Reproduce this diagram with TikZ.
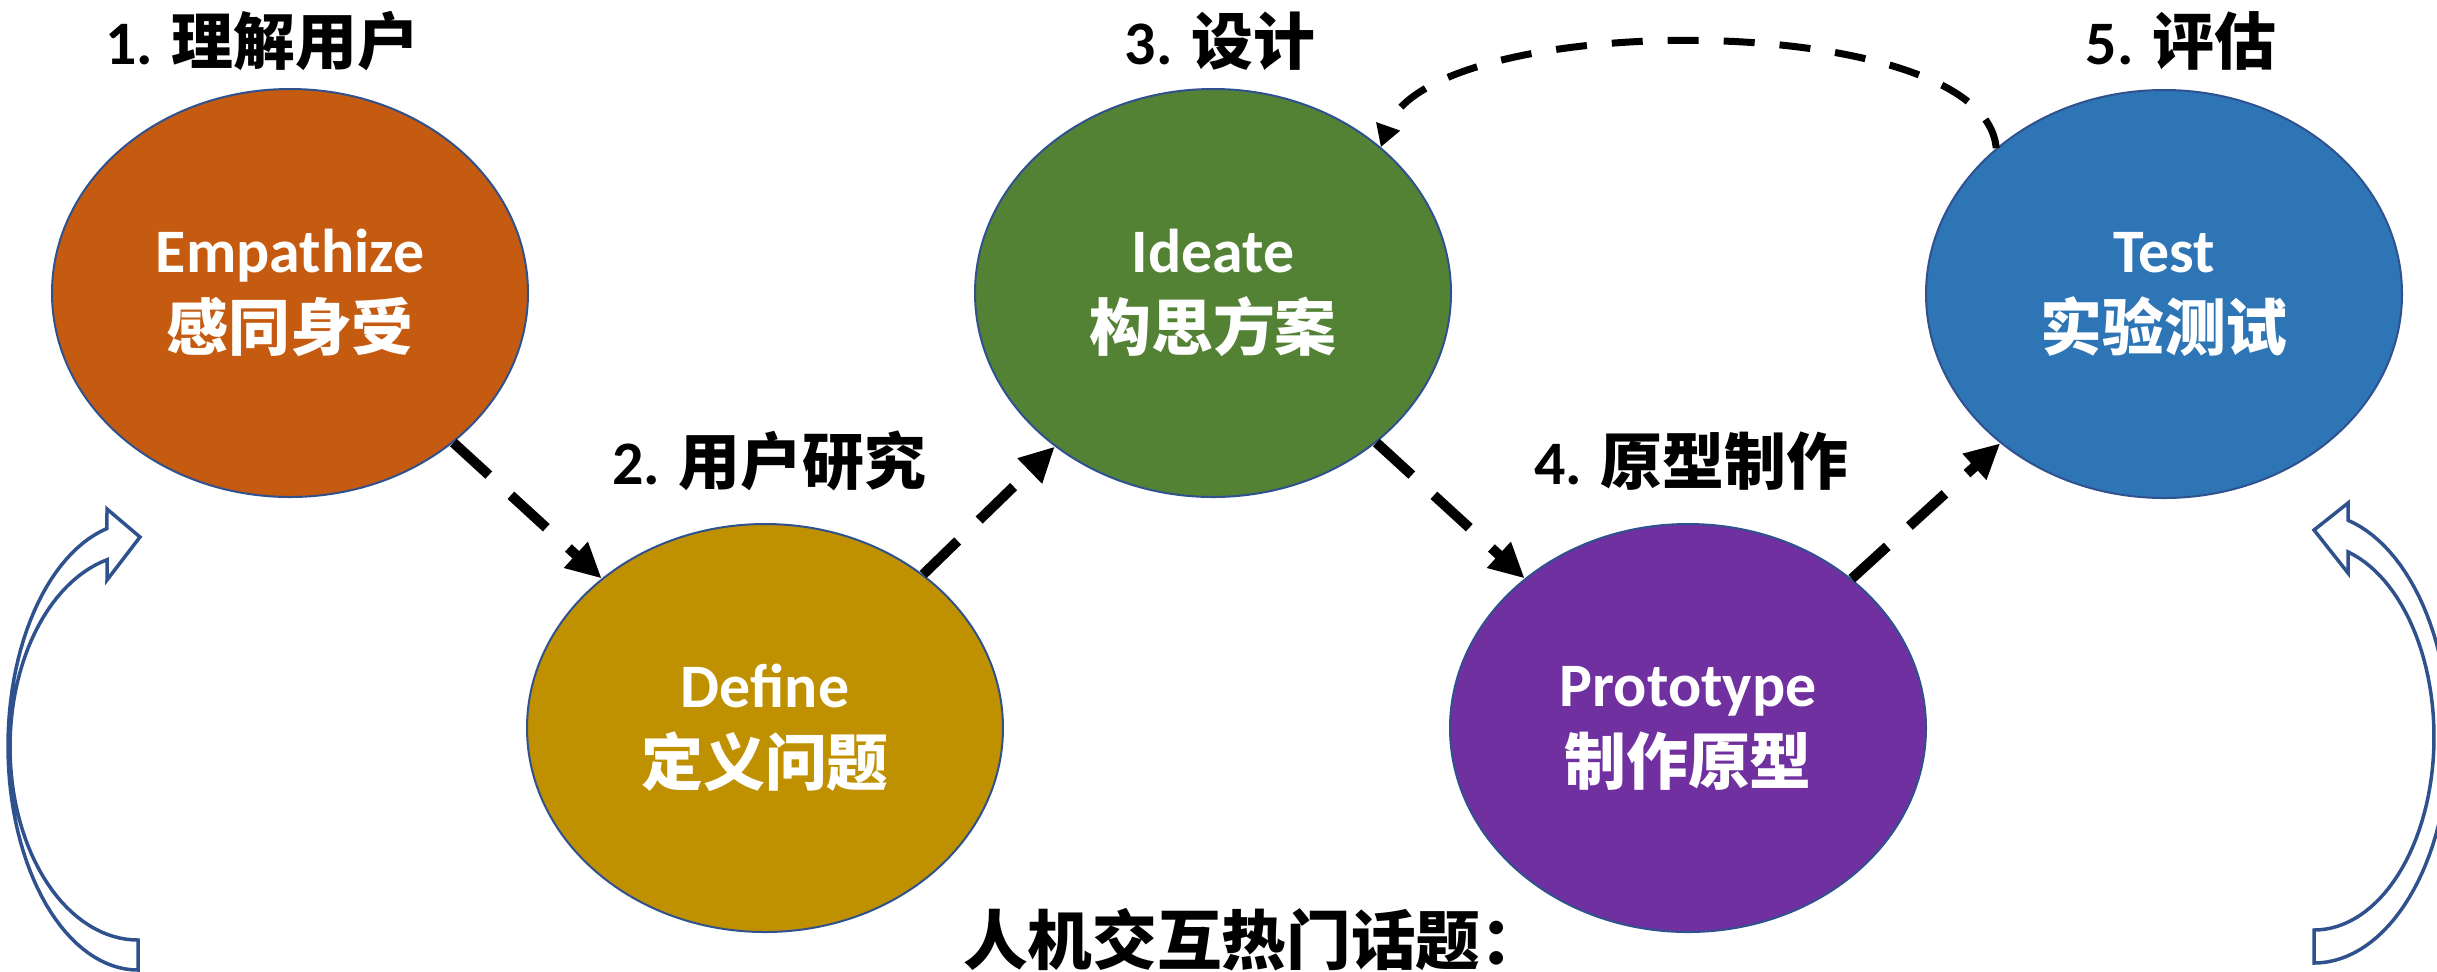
\documentclass[tikz,border=0pt]{standalone}
\usepackage{fontspec}
\usepackage{xcolor}
\usepackage{tikz}
\usetikzlibrary{shapes.geometric, arrows.meta, positioning}
\setmainfont{Carlito}
\newfontfamily\cjk{Noto Sans CJK SC}
\definecolor{empathorange}{HTML}{C55A11}
\definecolor{definegold}{HTML}{BF9000}
\definecolor{ideategreen}{HTML}{548235}
\definecolor{protopurple}{HTML}{7030A0}
\definecolor{testblue}{HTML}{2E75B6}
\definecolor{rimblue}{HTML}{2F528F}

\begin{document}
\begin{tikzpicture}[
  x=0.1mm, y=-0.1mm,
  stage/.style={ellipse, draw=rimblue, line width=0.2mm, minimum width=47.6mm, minimum height=40.8mm, inner sep=0pt, text=white, font=\fontsize{17.6}{22.2}\selectfont\bfseries, align=center},
  steptitle/.style={anchor=base, font=\fontsize{17.6}{22.2}\selectfont\bfseries},
  flow/.style={-{Triangle[length=3.5mm, width=3.3mm]}, line width=1mm, dash pattern=on 4.8mm off 3mm},
  back/.style={-{Triangle[length=2.2mm, width=2.4mm]}, line width=0.7mm, dash pattern=on 3.1mm off 2.5mm},
  loopmark/.style={draw=rimblue, line width=0.35mm},
]
  \useasboundingbox (0, 0) rectangle (2437, 971);

  % the five stages
  \node[stage, fill=empathorange] (emp) at (290, 293) {Empathize\\{\cjk 感同身受}};
  \node[stage, fill=definegold] (def) at (765, 728) {Define\\{\cjk 定义问题}};
  \node[stage, fill=ideategreen] (ide) at (1213, 293) {Ideate\\{\cjk 构思方案}};
  \node[stage, fill=protopurple] (pro) at (1688, 728) {Prototype\\{\cjk 制作原型}};
  \node[stage, fill=testblue] (tst) at (2164, 294) {Test\\{\cjk 实验测试}};

  \node[steptitle] (t1) at (262, 64) {1. {\cjk 理解用户}};
  \node[steptitle] (t2) at (769, 484) {2. {\cjk 用户研究}};
  \node[steptitle] (t3) at (1220, 64) {3. {\cjk 设计}};
  \node[steptitle] (t4) at (1691, 484) {4. {\cjk 原型制作}};
  \node[steptitle] (t5) at (2181, 64) {5. {\cjk 评估}};

  \draw[flow] (emp) -- (def);
  \draw[flow] (def) -- (ide);
  \draw[flow] (ide) -- (pro);
  \draw[flow] (pro) -- (tst);
  \draw[back] (tst.139) .. controls (1985, 8) and (1430, 8) .. (ide.41);

  % hollow loop arrows at both sides
  \draw[loopmark] plot[domain=270:103.8, samples=60] ({138+130*cos(\x)}, {746-224*sin(\x)})
    -- (107, 509) -- (140, 537) -- (107, 580)
    -- plot[domain=104:270, samples=60] ({138+128*cos(\x)}, {747-193*sin(\x)}) -- cycle;
  \draw[loopmark] plot[domain=-90:75.4, samples=60] ({2314+135*cos(\x)}, {738-225*sin(\x)})
    -- (2348, 503) -- (2314, 530) -- (2348, 573)
    -- plot[domain=73.5:-90, samples=60] ({2314+120*cos(\x)}, {737-193*sin(\x)}) -- cycle;

  \node[anchor=base, font=\fontsize{18.4}{22}\selectfont\bfseries] (topics) at (1254, 964) {\cjk 人机交互热门话题：};
\end{tikzpicture}
\end{document}
